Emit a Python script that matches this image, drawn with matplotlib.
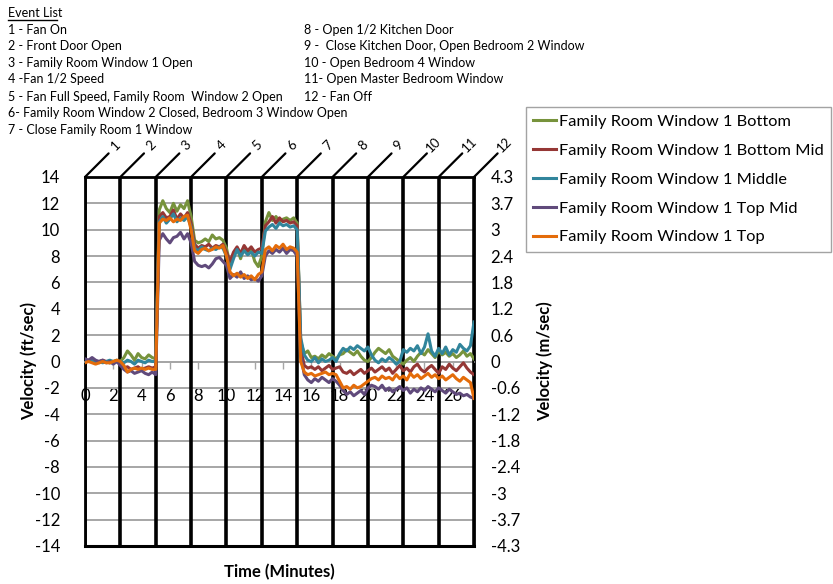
import numpy as np
import matplotlib
matplotlib.use("Agg")
import matplotlib.pyplot as plt

plt.rcParams['font.family'] = ['Lato', 'DejaVu Sans']
plt.rcParams['axes.unicode_minus'] = False

# time axis in minutes, one reading every 15 s
time_min = np.arange(0, 27.51, 0.25)

event_times = [0, 2.5, 5, 7.5, 10, 12.5, 15, 17.5, 20, 22.5, 25, 27.5]
event_labels = ['1', '2', '3', '4', '5', '6', '7', '8', '9', '10', '11', '12']

event_list_left = [
    "1 - Fan On",
    "2 - Front Door Open",
    "3 - Family Room Window 1 Open",
    "4 -Fan 1/2 Speed",
    "5 - Fan Full Speed, Family Room  Window 2 Open",
    "6- Family Room Window 2 Closed, Bedroom 3 Window Open",
    "7 - Close Family Room 1 Window",
]
event_list_right = [
    "8 - Open 1/2 Kitchen Door",
    "9 -  Close Kitchen Door, Open Bedroom 2 Window",
    "10 - Open Bedroom 4 Window",
    "11- Open Master Bedroom Window",
    "12 - Fan Off",
]

series_names = [
    "Family Room Window 1 Bottom",
    "Family Room Window 1 Bottom Mid",
    "Family Room Window 1 Middle",
    "Family Room Window 1 Top Mid",
    "Family Room Window 1 Top",
]
series_colors = ['#77933C', '#953735', '#31859C', '#604A7B', '#E46C0A']

bottom = ([0.1, 0.0, 0.1, 0.0, -0.1, 0.0, 0.0, -0.1, 0.0, 0.1]
          + [0.0, 0.3, 0.8, 0.5, 0.1, 0.6, 0.3, 0.2, 0.5, 0.3, 0.2]
          + [11.5, 12.2, 11.6, 11.3, 12.0, 11.4, 11.9, 11.6, 12.2, 11.0]
          + [9.2, 9.0, 9.1, 9.3, 9.1, 9.6, 9.3, 9.4, 9.2, 8.6]
          + [7.4, 8.0, 8.6, 7.8, 8.7, 8.3, 8.5, 7.6, 7.2, 8.0]
          + [10.6, 11.3, 10.7, 11.0, 10.6, 10.8, 10.9, 10.7, 10.9, 10.5, 1.5]
          + [0.6, 0.8, 0.3, 0.4, 0.2, 0.5, 0.3, 0.6, 0.4, 0.2,
             0.5, 0.6, 0.9, 0.7, 0.5, 0.8, 0.4, 0.1, 0.0, 0.3,
             0.7, 1.0, 0.8, 0.6, 0.9, 0.4, 0.2, 0.0, -0.2, 0.1,
             0.3, 0.0, 0.4, 0.7, 0.5, 0.9, 0.6, 0.3, 0.8, 0.5,
             0.7, 0.4, 0.6, 0.3, 0.5, 0.8, 0.4, 0.6, 0.2])

bottom_mid = ([0.0, 0.1, 0.0, -0.1, 0.0, 0.1, 0.0, -0.1, 0.0, 0.0]
              + [-0.2, -0.5, -0.4, -0.6, -0.5, -0.4, -0.6, -0.5, -0.4, -0.5, -0.4]
              + [11.0, 11.3, 10.9, 11.0, 11.5, 10.8, 11.2, 10.9, 11.3, 10.5]
              + [8.9, 8.6, 8.8, 8.7, 8.9, 8.6, 8.8, 8.7, 8.9, 8.3]
              + [7.6, 8.3, 8.7, 8.2, 8.8, 8.4, 8.7, 8.3, 8.5, 8.6]
              + [10.3, 10.6, 11.0, 10.5, 10.9, 10.6, 10.7, 10.5, 10.6, 10.3, 1.0]
              + [-0.3, -0.5, -0.4, -0.6, -0.4, -0.7, -0.5, -0.3, -0.6, -0.5,
                 -0.4, -0.8, -0.9, -0.7, -1.0, -0.8, -0.6, -0.9, -0.7, -0.5,
                 -0.8, -0.6, -0.4, -0.7, -0.5, -0.9, -0.6, -0.3, -0.7, -0.5,
                 -0.8, -0.4, -0.2, -0.6, -0.8, -0.5, -0.3, -0.6, -0.9, -0.4,
                 -0.6, -0.2, -0.5, -0.7, -0.4, -0.1, -0.5, -0.8, -1.0])

middle = ([0.1, 0.0, 0.1, 0.0, 0.0, -0.1, 0.0, 0.1, 0.0, 0.0]
          + [0.0, -0.1, 0.1, 0.0, -0.2, 0.1, 0.0, -0.1, 0.1, 0.0, 0.0]
          + [10.6, 11.0, 10.5, 10.8, 11.2, 10.6, 10.9, 10.7, 11.0, 10.2]
          + [8.6, 8.4, 8.7, 8.5, 8.4, 8.6, 8.5, 8.7, 8.6, 8.0]
          + [7.0, 7.8, 8.5, 8.0, 8.4, 8.1, 8.3, 8.0, 8.3, 8.2]
          + [9.9, 10.2, 10.4, 10.1, 10.5, 10.3, 10.4, 10.2, 10.3, 10.0, 1.8]
          + [0.5, 0.1, 0.0, 0.3, -0.1, 0.2, 0.0, 0.1, 0.3, 0.0,
             0.6, 1.0, 0.8, 1.1, 0.9, 1.2, 1.0, 0.8, 1.1, 0.5,
             0.1, -0.1, 0.2, 0.0, 0.3, 0.1, -0.2, 0.0, 0.9, 0.7,
             1.0, 0.8, 1.2, 0.6, 1.1, 2.1, 0.8, 0.4, 1.0, 0.6,
             1.1, 0.5, 0.9, 0.7, 1.3, 1.0, 0.8, 1.2, 3.0])

top_mid = ([0.2, 0.1, 0.3, 0.1, 0.0, 0.1, -0.1, 0.0, -0.2, 0.0]
           + [-0.3, -0.6, -0.8, -0.7, -0.9, -0.8, -0.7, -0.9, -1.0, -0.8, -1.0]
           + [9.2, 9.7, 9.3, 9.0, 9.4, 9.5, 9.8, 9.3, 9.7, 9.0]
           + [7.6, 7.3, 7.2, 7.3, 7.1, 7.4, 7.8, 7.9, 7.6, 7.3]
           + [6.3, 6.6, 6.4, 6.8, 6.3, 6.5, 6.2, 6.3, 6.1, 6.5]
           + [8.0, 8.4, 8.2, 8.5, 8.3, 8.6, 8.2, 8.5, 8.4, 8.0, 0.5]
           + [-1.0, -1.4, -1.6, -1.3, -1.5, -1.2, -1.4, -1.6, -1.3, -1.5,
              -1.8, -2.2, -2.5, -2.3, -2.6, -2.4, -2.2, -2.5, -2.0, -1.8,
              -1.9, -2.1, -1.8, -2.2, -2.0, -2.3, -2.1, -1.9, -2.2, -2.0,
              -2.4, -2.1, -2.3, -2.0, -2.2, -1.9, -2.1, -2.3, -2.0, -2.2,
              -2.4, -2.1, -2.3, -2.5, -2.4, -2.6, -2.5, -2.7, -2.8])

top = ([-0.1, 0.0, -0.1, -0.2, -0.1, 0.0, -0.1, -0.1, 0.0, 0.1]
       + [0.0, -0.3, -0.8, -0.6, -0.5, -0.6, -0.5, -0.6, -0.5, -0.6, -0.6]
       + [10.5, 10.8, 10.7, 10.9, 10.6, 10.8, 10.7, 11.0, 11.1, 10.0]
       + [8.4, 8.2, 8.5, 8.6, 8.4, 8.5, 8.7, 8.6, 8.8, 8.0]
       + [6.8, 6.5, 6.7, 6.4, 6.6, 6.3, 6.5, 6.2, 6.6, 6.8]
       + [8.5, 8.7, 8.4, 8.8, 8.6, 8.9, 8.5, 8.7, 8.6, 8.3, 0.0]
       + [-0.8, -1.0, -0.9, -1.1, -1.0, -0.9, -0.8, -1.0, -0.9, -1.0,
          -1.5, -2.0, -1.9, -2.1, -1.8, -2.0, -1.9, -1.7, -1.5, -1.3,
          -1.2, -1.4, -1.1, -1.3, -1.2, -1.4, -1.0, -1.3, -1.1, -1.4,
          -0.9, -1.2, -1.0, -1.3, -1.1, -0.9, -1.2, -1.0, -1.3, -1.1,
          -1.4, -1.2, -1.0, -1.3, -1.5, -1.2, -1.4, -1.6, -2.8])

series = [bottom, bottom_mid, middle, top_mid, top]

FT_TO_M = 0.3048

fig = plt.figure(figsize=(8.33, 5.84), dpi=100)
ax = fig.add_axes([85 / 833, 38 / 584, (474 - 85) / 833, (546 - 177) / 584])

for vals, name, col in zip(series, series_names, series_colors):
    ax.plot(time_min, vals, color=col, lw=2.2, label=name, zorder=4)

ax.set_xlim(0, 27.5)
ax.set_ylim(-14, 14)
ax.set_yticks(np.arange(-14, 15, 2))
ax.set_xticks(np.arange(0, 27, 2))
ax.yaxis.grid(True, color='#A6A6A6', lw=1.4)
ax.set_axisbelow(True)

# x axis crosses at zero
ax.spines['bottom'].set_position(('data', 0))
ax.spines['bottom'].set_color('#A6A6A6')
ax.spines['bottom'].set_linewidth(1.2)
for s in ['left', 'right', 'top']:
    ax.spines[s].set_linewidth(2)
ax.axhline(-14, color='black', lw=2.2, clip_on=False, zorder=5)
ax.tick_params(axis='x', colors='#A6A6A6', length=5, width=1, pad=14, labelsize=12,
               labelcolor='black')
ax.tick_params(axis='y', length=0, pad=18, labelsize=12)

# event lines with slanted markers on top
for t, lab in zip(event_times, event_labels):
    ax.axvline(t, color='black', lw=2.6, zorder=3)
    ax.annotate('', xy=(t, 14), xytext=(17, 17), textcoords='offset points',
                arrowprops=dict(arrowstyle='-', lw=1.6, color='black', shrinkA=0, shrinkB=0),
                annotation_clip=False)
    ax.annotate(lab, xy=(t, 14), xytext=(22, 23), textcoords='offset points',
                rotation=45, ha='center', va='center', fontsize=9.5, annotation_clip=False)

ax.set_ylabel('Velocity (ft/sec)', fontsize=12, fontweight='bold', labelpad=-2)
ax.set_xlabel('Time (Minutes)', fontsize=12, fontweight='bold')
ax.xaxis.set_label_coords(0.5, -0.05)

ax2 = ax.twinx()
ax2.set_ylim(-14 * FT_TO_M, 14 * FT_TO_M)
right_ticks = np.arange(-14, 15, 2) * FT_TO_M
ax2.set_yticks(right_ticks)
right_labels = []
for v in right_ticks:
    s = f"{v:.1f}"
    if s.endswith('.0'):
        s = s[:-2]
    if s == '-0':
        s = '0'
    right_labels.append(s)
ax2.set_yticklabels(right_labels)
ax2.tick_params(axis='y', length=0, pad=12, labelsize=12)
for s in ax2.spines.values():
    s.set_visible(False)
ax2.set_ylabel('Velocity (m/sec)', fontsize=12, fontweight='bold', labelpad=12)

# legend
handles, labels = ax.get_legend_handles_labels()
leg = fig.legend(handles, labels, loc='upper left',
                 bbox_to_anchor=(526 / 833, 1 - 107 / 584), fontsize=11.8,
                 frameon=True, fancybox=False, handlelength=1.4, handletextpad=0.15,
                 labelspacing=0.88, borderpad=0.45, borderaxespad=0)
leg.get_frame().set_edgecolor('#8C8C8C')
leg.get_frame().set_linewidth(1)

# event list text
fig.text(8 / 833, 1 - 13 / 584, 'Event List', fontsize=9, va='center', ha='left')
fig.add_artist(plt.Line2D([8 / 833, 57 / 833], [1 - 20 / 584, 1 - 20 / 584], color='black', lw=1))
row_y = [30, 46, 63, 79, 97, 113, 130]
for txt, y in zip(event_list_left, row_y):
    fig.text(8 / 833, 1 - y / 584, txt, fontsize=9, va='center', ha='left')
for txt, y in zip(event_list_right, row_y):
    fig.text(304 / 833, 1 - y / 584, txt, fontsize=9, va='center', ha='left')

fig.savefig('out.png', dpi=100)
